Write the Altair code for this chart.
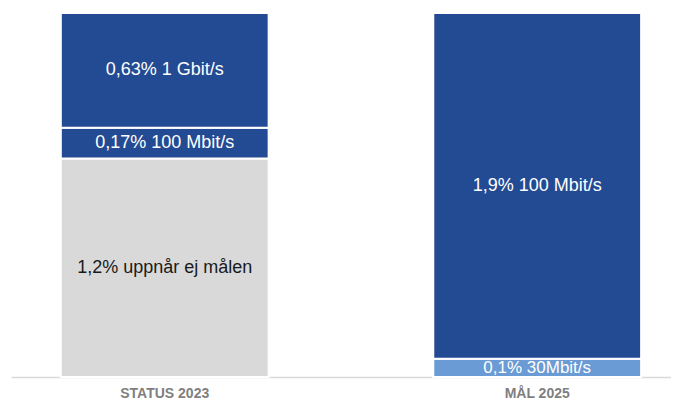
import altair as alt
import pandas as pd

cats = ["STATUS 2023", "STATUS 2023", "STATUS 2023", "MÅL 2025", "MÅL 2025"]
labels = ["1,2% uppnår ej målen", "0,17% 100 Mbit/s", "0,63% 1 Gbit/s",
          "0,1% 30Mbit/s", "1,9% 100 Mbit/s"]
values = [1.2, 0.17, 0.63, 0.1, 1.9]
order = [0, 1, 2, 0, 1]
colors = ["#D9D9D9", "#234B94", "#234B94", "#6A9BD4", "#234B94"]
text_colors = ["#1a1a1a", "#ffffff", "#ffffff", "#ffffff", "#ffffff"]
font_sizes = [18, 18, 18, 17, 18]
cat_order = ["STATUS 2023", "MÅL 2025"]

df = pd.DataFrame({
    "cat": cats, "label": labels, "value": values, "order": order,
    "color": colors, "tcolor": text_colors, "fs": font_sizes,
})

base = alt.Chart(df).transform_stack(
    stack="value", groupby=["cat"],
    sort=[alt.SortField("order", "ascending")], as_=["y0", "y1"],
).transform_calculate(mid="(datum.y0 + datum.y1) / 2")

xenc = alt.X(
    "cat:N", sort=cat_order, title=None,
    scale=alt.Scale(paddingInner=0.442, paddingOuter=0.107, align=0.625),
    axis=alt.Axis(
        domainColor="#d9d9d9", domainWidth=1.5, ticks=False, labelAngle=0,
        labelColor="#7f7f7f", labelFontSize=14, labelFontWeight="bold",
        labelFont="Liberation Sans", labelPadding=9,
    ),
)

bars = base.mark_bar(stroke="white", strokeWidth=2).encode(
    x=xenc,
    y=alt.Y("y0:Q", scale=alt.Scale(domain=[0, 2]), axis=None),
    y2="y1:Q",
    color=alt.Color("color:N", scale=None),
)

text = base.mark_text(font="Liberation Sans").encode(
    x=alt.X("cat:N", sort=cat_order),
    y=alt.Y("mid:Q"),
    text="label:N",
    color=alt.Color("tcolor:N", scale=None),
    size=alt.Size("fs:Q", scale=None),
)

chart = alt.layer(bars, text).properties(
    width=660, height=364,
    padding={"left": 3, "top": 5, "right": 0, "bottom": 23},
    autosize=alt.AutoSizeParams(type="none"),
).configure_view(stroke=None)

chart.save("out.html", embed_options={"renderer": "svg", "actions": False})
